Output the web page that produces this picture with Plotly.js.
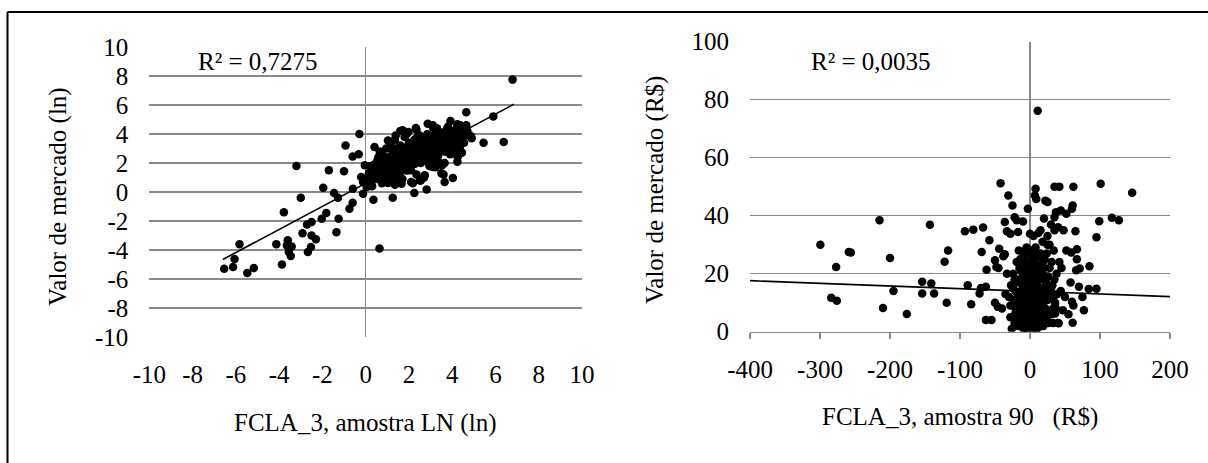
<!DOCTYPE html>
<html><head><meta charset="utf-8">
<script src="https://cdn.plot.ly/plotly-3.0.1.min.js"></script>
<style>html,body{margin:0;padding:0;background:#fff;}#chart{width:1208px;height:463px;}</style>
</head><body><div id="chart"></div>
<script>
// ---- Left chart: FCLA_3, amostra LN (ln) vs Valor de mercado (ln)
const lnX = [
 6.79,5.9,6.38,5.45,4.65,4.65,4.87,3.92,4.03,3.65,3.6,2.82,2.25,1.25,0.36,-0.12,0.64,-0.29,-0.32,-0.6,-0.93,-1.0,-1.7,-1.96,-3.2,-1.46,-1.28,-3.0,-0.59,-0.6,-0.75,-1.82,-2.03,-1.25,-3.78,-2.5,-2.71,-1.35,-2.92,-2.5,-2.3,-2.53,-2.67,-4.13,-3.6,-3.64,-3.42,-3.55,-3.46,-3.87,-5.83,-6.06,-6.13,-6.54,-5.47,-5.17,
 -0.04,0.18,-0.21,-0.12,0.05,0.23,0.41,0.59,1.03,1.39,1.71,1.98,2.32,2.87,3.12,3.76,4.24,4.42,4.24,4.42,3.97,3.53,3.08,2.73,2.55,2.1,1.66,1.39,1.03,0.86,0.89,1.18,1.57,1.93,2.28,2.64,3.0,3.35,3.71,4.06,
 0.05,0.1,0.15,0.2,0.25,0.3,0.35,0.4,0.45,0.5,0.55,0.6,0.65,0.7,0.75,0.8,0.85,0.9,0.95,1.0,
 1.05,1.1,1.15,1.2,1.25,1.3,1.35,1.4,1.45,1.5,1.55,1.6,1.65,1.7,1.75,1.8,1.85,1.9,1.95,2.0,1.12,1.28,1.42,1.58,1.72,1.88,1.98,1.35,1.6,1.9,
 2.05,2.1,2.15,2.2,2.25,2.3,2.35,2.4,2.45,2.5,2.55,2.6,2.65,2.7,2.75,2.8,2.85,2.9,2.95,3.0,2.12,2.28,2.42,2.58,2.72,2.88,2.98,2.18,2.5,2.35,2.65,2.78,2.2,2.45,2.9,
 3.05,3.1,3.15,3.2,3.25,3.3,3.35,3.4,3.45,3.5,3.55,3.6,3.65,3.7,3.75,3.8,3.85,3.9,3.95,4.0,3.12,3.28,3.42,3.58,3.72,3.88,3.98,3.22,3.5,3.3,3.6,3.8,3.45,3.1,3.35,
 4.05,4.1,4.15,4.2,4.25,4.3,4.35,4.4,4.45,4.5,4.55,4.6,4.7,4.8,4.9,4.12,4.38,4.22,4.05,4.32,
 1.3,1.5,1.7,1.9,2.1,2.3,2.5,2.7,2.9,3.1,3.3,3.5,3.7,3.9,4.1,4.3,4.5,
 1.4,1.6,1.8,2.0,2.2,2.4,2.6,2.8,3.0,3.2,3.4,3.6,3.8,4.0,4.2,4.4,
 0.7,0.9,1.1,2.15,2.55,2.95,3.35,3.75,4.15,1.25,1.65,2.05,2.45,2.85,3.25,3.65,4.05
];
const lnY = [
 7.75,5.2,3.45,3.4,5.5,4.6,3.84,4.9,0.97,0.69,1.2,0.18,-0.07,-0.4,-0.53,-0.12,-3.9,4.0,2.6,2.45,3.2,1.43,1.5,0.3,1.8,-0.07,-0.4,-0.4,0.23,-0.74,-1.15,-1.45,-1.84,-1.84,-1.4,-2.07,-2.24,-2.77,-2.84,-3.0,-3.26,-3.8,-4.14,-3.6,-3.33,-3.68,-3.75,-4.14,-4.41,-5.0,-3.6,-4.62,-5.17,-5.3,-5.58,-5.24,
 1.84,1.77,1.03,0.69,0.34,0.57,3.1,2.41,3.56,3.9,4.25,4.14,4.41,4.71,4.44,4.37,4.67,4.14,2.09,2.76,2.69,1.84,1.72,1.15,0.8,0.69,0.57,0.8,0.62,1.03,1.72,1.49,1.84,1.49,1.95,2.18,2.64,2.87,3.33,3.56,
 0.5,1.0,1.3,0.8,1.6,0.4,1.2,1.9,0.9,1.5,2.2,1.1,2.8,1.7,0.6,2.5,1.3,2.0,3.0,1.6,
 2.4,0.9,3.3,1.9,2.7,1.4,3.6,2.2,1.0,2.9,1.7,3.2,2.5,0.9,2.0,3.8,1.5,2.8,2.2,3.4,1.5,2.0,3.0,1.3,3.0,2.4,1.7,0.5,4.2,4.0,
 2.6,1.5,3.0,2.1,3.6,2.8,1.2,3.2,2.4,3.9,2.0,3.0,2.6,1.0,3.4,2.2,4.0,2.9,1.8,3.3,2.4,3.3,2.7,3.5,2.9,3.6,2.5,0.6,0.8,4.3,3.2,2.6,2.9,3.0,3.1,
 2.8,3.6,2.1,3.9,3.0,4.4,2.5,3.4,3.8,2.9,4.1,3.2,2.0,3.7,4.2,3.0,3.5,2.6,4.0,3.3,3.2,2.7,3.0,3.6,2.8,3.9,3.1,1.7,1.3,3.5,4.0,4.5,3.1,4.6,3.9,
 3.8,2.9,4.3,3.4,2.4,4.0,3.1,3.7,2.7,4.4,3.4,3.9,4.2,3.9,3.7,3.6,4.6,4.4,4.0,3.5,
 2.6,2.3,1.9,3.1,2.9,2.4,3.4,3.7,2.0,3.1,3.2,3.6,3.3,3.5,3.2,3.8,3.9,
 1.8,2.7,2.5,2.2,2.3,3.8,2.2,3.1,2.6,3.5,2.8,3.4,3.8,4.2,3.0,4.1,
 2.1,0.9,1.2,3.3,2.7,3.9,2.1,3.4,4.1,3.0,2.0,1.9,2.1,3.3,4.1,2.8,3.0
];
const lnTrendX = [-6.6, 6.85];
const lnTrendY = [-4.65, 6.05];
const lnR2 = "R² = 0,7275";
const lnTicks = [-10,-8,-6,-4,-2,0,2,4,6,8,10];
const lnTickText = ["-10","-8","-6","-4","-2","0","2","4","6","8","10"];

// ---- Right chart: FCLA_3, amostra 90 (R$) vs Valor de mercado (R$)
const rsX = [
 11,-299.5,-284,-276,-277,-259,-256,-215,-210,-200,-195,-176,-154,-154,-143,-141,-137,-122,-117,-119,-93,-89,-84,-81,-67,-69,-72,-70,-63,-63,-58,-62,-50,-48,-42,-44,-46,-36,-31,-36,-33,-28,-25,-22,-19,-17,-3,0,8,7,9,22,25,35,42,62,61,60,52,44,37,35,65,67,59,67,71,66,85,101,99,95,117,127,146,95,84,70,75,77,61,41,60,36,47,33,
 -30,-28,-27,-25,-24,-22,-21,-20,-19,-18,-17,-16,-15,-14,-13,-12,-11,-10,-9,-8,-7,-6,-5,-4,-3,-2,-1,0,0,1,2,2,3,4,5,5,6,7,8,8,9,10,10,11,12,13,14,15,16,17,18,19,20,21,22,23,24,25,26,28,30,32,34,36,38,40,42,44,
 -26,-23,-20,-18,-15,-13,-11,-9,-7,-5,-3,-1,1,3,4,6,7,9,11,12,13,15,16,17,19,20,22,24,26,27,29,31,33,35,37,39,-2,0,2,-6,-8,-10,-4,6,14,18,-12,-16,10,4,-1,8,12,-14,0,1,5,-3,
 -40,-38,-35,-33,-45,-50,-55,50,52,55,48,45,58,62,40,30,25,20,15,-10,-5,5,12,18,28,35,
 -22,-18,-14,-10,-6,-2,2,6,10,14,18,22,26,
 -20,-16,-12,-8,-4,0,4,8,12,16,20,24,
 -24,-19,-13,-7,-1,3,9,15,21,27,
 -17,-9,-3,1,7,11,17,23,
 -21,-11,-5,3,13,19,
 -15,-6,0,6,14,
 -8,2,10,30,-28,33
];
const rsY = [
 76.2,30,11.7,10.7,22.3,27.5,27.3,38.4,8.2,25.4,14,6.1,17.2,13.2,36.9,16.6,13.2,24.1,28,10,34.6,16,9.5,35.2,35.9,27.5,13.2,15.1,4,15.5,31.5,21.4,24.6,22.3,51.2,28.6,8.6,26.7,47,37.8,34.6,33.8,43.5,39.5,38.4,34.4,42.4,33.8,49.3,47,45.8,45.2,44.7,50,50,50,43.5,42.4,40.7,41.8,41.2,39.5,34.6,28.4,27.3,25,21.8,21.2,22.6,51,38.1,32.6,39.3,38.4,47.9,14.8,14.7,15.5,12,7.4,3.1,2.9,10.3,6.3,7.4,11.5,
 12,5,16,9,20,3,14,7,24,11,2,17,5,13,21,8,3,15,26,10,6,19,1,12,23,4,16,8,2,11,28,5,14,1,19,7,24,3,13,29,6,17,1,22,9,4,15,27,11,6,20,2,13,25,8,17,4,30,11,22,6,16,28,10,20,3,24,14,
 1,11,18,4,22,9,16,1,13,21,7,27,3,18,9,14,21,10,4,26,18,7,2,15,9,22,3,12,19,7,14,24,3,18,8,13,12,20,15,9,17,5,2,5,9,14,14,9,7,23,9,17,13,2,14,24,12,17,
 8,26,13,20,22,10,4,12,28,6,35,22,17,9,36,37,33,39,35,38,29,33,34,31,30,35,
 18,8,25,20,15,6,21,27,12,3,24,19,14,
 10,28,6,3,24,5,16,2,21,19,5,27,
 15,3,12,28,22,9,23,20,11,3,
 13,20,9,17,11,26,9,16,
 6,11,4,25,14,24,
 18,14,12,3,18,
 23,7,19,15,9,8
];
const rsTrendX = [-400, 200];
const rsTrendY = [17.6, 12.1];
const rsR2 = "R² = 0,0035";
const rsXTicks = [-400,-300,-200,-100,0,100,200];
const rsXTickText = ["-400","-300","-200","-100","0","100","200"];
const rsYTicks = [0,20,40,60,80,100];
const rsYTickText = ["0","20","40","60","80","100"];

const FONT = {family: "Liberation Serif", size: 25, color: "#000"};
const GRID = "#8a8a8a";

const traces = [
 {x: lnX, y: lnY, xaxis: "x", yaxis: "y", mode: "markers", type: "scatter",
  marker: {color: "#000", size: 8.5}, hoverinfo: "skip"},
 {x: lnTrendX, y: lnTrendY, xaxis: "x", yaxis: "y", mode: "lines", type: "scatter",
  line: {color: "#000", width: 1.6}, hoverinfo: "skip"},
 {x: rsX, y: rsY, xaxis: "x2", yaxis: "y2", mode: "markers", type: "scatter",
  marker: {color: "#000", size: 8.5}, hoverinfo: "skip"},
 {x: rsTrendX, y: rsTrendY, xaxis: "x2", yaxis: "y2", mode: "lines", type: "scatter",
  line: {color: "#000", width: 1.6}, hoverinfo: "skip"}
];

const layout = {
 width: 1208, height: 463,
 margin: {l: 0, r: 0, t: 0, b: 0},
 paper_bgcolor: "#fff", plot_bgcolor: "#fff",
 showlegend: false,
 font: FONT,
 xaxis: {domain: [0.1236, 0.4818], range: [-10, 10], anchor: "y",
  tickvals: lnTicks, ticktext: lnTickText, ticks: "", showgrid: false,
  zeroline: true, zerolinecolor: GRID, zerolinewidth: 1.3, showline: false,
  tickfont: FONT, ticklabelstandoff: 20, fixedrange: true},
 xaxis3: {overlaying: "x", anchor: "free", position: 0.5853, range: [-10, 10],
  tickvals: lnTicks, showticklabels: false, ticks: "outside", ticklen: 5,
  tickcolor: GRID, tickwidth: 1.3, showline: true, linecolor: GRID, linewidth: 1.3,
  showgrid: false, zeroline: false},
 yaxis: {domain: [0.2721, 0.8985], range: [-10, 10], anchor: "x",
  tickvals: lnTicks, ticktext: lnTickText, ticks: "", showgrid: true,
  gridcolor: GRID, gridwidth: 1.3, zeroline: false, showline: false,
  tickfont: FONT, ticklabelstandoff: 20},
 xaxis2: {domain: [0.6209, 0.9685], range: [-400, 200], anchor: "y2",
  tickvals: rsXTicks, ticktext: rsXTickText, ticks: "outside", ticklen: 6,
  tickcolor: GRID, tickwidth: 1.3, showline: true, linecolor: GRID, linewidth: 1.3,
  showgrid: false, zeroline: true, zerolinecolor: GRID, zerolinewidth: 1.3,
  tickfont: FONT, ticklabelstandoff: 9},
 yaxis2: {domain: [0.2836, 0.9099], range: [0, 100], anchor: "x2",
  tickvals: rsYTicks, ticktext: rsYTickText, ticks: "", showgrid: true,
  gridcolor: GRID, gridwidth: 1.3, zeroline: false, showline: false,
  tickfont: FONT, ticklabelstandoff: 20},
 annotations: [
  {text: lnR2, xref: "paper", yref: "paper", x: 0.2136, y: 0.8661, xanchor: "center", yanchor: "middle", showarrow: false, font: FONT},
  {text: rsR2, xref: "paper", yref: "paper", x: 0.721, y: 0.8661, xanchor: "center", yanchor: "middle", showarrow: false, font: FONT},
  {text: "Valor de mercado (ln)", xref: "paper", yref: "paper", x: 0.048, y: 0.5767, textangle: -90, xanchor: "center", yanchor: "middle", showarrow: false, font: FONT},
  {text: "Valor de mercado (R$)", xref: "paper", yref: "paper", x: 0.5422, y: 0.5896, textangle: -90, xanchor: "center", yanchor: "middle", showarrow: false, font: FONT},
  {text: "FCLA_3, amostra LN (ln)", xref: "paper", yref: "paper", x: 0.3022, y: 0.087, xanchor: "center", yanchor: "middle", showarrow: false, font: FONT},
  {text: "FCLA_3, amostra 90\u00a0\u00a0\u00a0(R$)", xref: "paper", yref: "paper", x: 0.7947, y: 0.100, xanchor: "center", yanchor: "middle", showarrow: false, font: FONT}
 ],
 shapes: [
  {type: "line", xref: "paper", yref: "paper", x0: 7.5/1208, x1: 1.01, y0: 1 - 12/463, y1: 1 - 12/463, line: {color: "#000", width: 2}},
  {type: "line", xref: "paper", yref: "paper", x0: 7.5/1208, x1: 7.5/1208, y0: 1 - 12/463, y1: -0.01, line: {color: "#000", width: 2}}
 ]
};

Plotly.newPlot("chart", traces, layout, {staticPlot: true, displayModeBar: false});
</script></body></html>
